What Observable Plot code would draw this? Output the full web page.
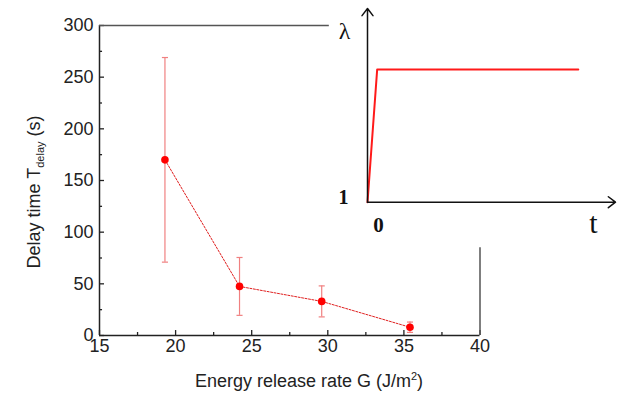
<!DOCTYPE html>
<html><head><meta charset="utf-8">
<script src="https://cdn.jsdelivr.net/npm/d3@7"></script>
<script src="https://cdn.jsdelivr.net/npm/@observablehq/plot@0.6"></script>
<style>
body{margin:0;background:#fff}
#wrap{position:relative;width:621px;height:394px}
#wrap svg{position:absolute;left:0;top:0}
</style>
</head><body><div id="wrap"></div>
<script>
// Main chart data
const G = [19.3, 24.2, 29.6, 35.4];        // energy release rate (J/m^2)
const T = [170, 47.5, 33, 8];               // delay time (s)
const Terr = [99, 28, 15, 5];               // error (s)
const xTicks = [15, 20, 25, 30, 35, 40];
const xMinor = [17.5, 22.5, 27.5, 32.5, 37.5];
const yTicks = [0, 50, 100, 150, 200, 250, 300];
const yMinor = [25, 75, 125, 175, 225, 275];
// Inset schematic (stretch ratio vs time)
const tStep = [0, 0.039, 0.85];
const lamStep = [1, 1.685, 1.685];
const insetLabels = ["λ", "1", "0", "t"];

const data = G.map((g, i) => ({G: g, T: T[i], e: Terr[i]}));
const axisCol = "#222";

const main = Plot.plot({
  width: 621, height: 394,
  marginLeft: 99, marginRight: 141.5, marginTop: 25, marginBottom: 59,
  x: {domain: [15, 40]},
  y: {domain: [0, 300]},
  style: {fontFamily: "'Liberation Sans', Arial, sans-serif", fontSize: "18px", color: axisCol, background: "white"},
  marks: [
    Plot.axisX(xTicks, {tickSize: 0, tickPadding: 4, label: null, fontSize: 18}),
    Plot.axisY(yTicks, {tickSize: 0, tickPadding: 6, label: null, fontSize: 18}),
    // inward tick marks
    Plot.ruleX(xTicks, {y1: 0, y2: 4.8, stroke: axisCol, strokeWidth: 1.3}),
    Plot.ruleX(xMinor, {y1: 0, y2: 2.9, stroke: axisCol, strokeWidth: 1.3}),
    Plot.ruleY(yTicks, {x1: 15, x2: 15.33, stroke: axisCol, strokeWidth: 1.3}),
    Plot.ruleY(yMinor, {x1: 15, x2: 15.2, stroke: axisCol, strokeWidth: 1.3}),
    // frame
    Plot.ruleX([15], {y1: 0, y2: 300, stroke: axisCol, strokeWidth: 1.5}),
    Plot.ruleY([0], {x1: 15, x2: 40, stroke: axisCol, strokeWidth: 1.5}),
    Plot.ruleY([300], {x1: 15, x2: 30.1, stroke: "#555", strokeWidth: 1.5}),
    Plot.ruleX([40], {y1: 0, y2: 85, stroke: "#555", strokeWidth: 1.5}),
    // data
    Plot.ruleX(data, {x: "G", y1: d => d.T - d.e, y2: d => d.T + d.e, stroke: "#f08080", strokeWidth: 1.2}),
    Plot.link(data, {x1: d => d.G - 0.2, x2: d => d.G + 0.2, y1: d => d.T + d.e, y2: d => d.T + d.e, stroke: "#f08080", strokeWidth: 1.2}),
    Plot.link(data, {x1: d => d.G - 0.2, x2: d => d.G + 0.2, y1: d => d.T - d.e, y2: d => d.T - d.e, stroke: "#f08080", strokeWidth: 1.2}),
    Plot.line(data, {x: "G", y: "T", stroke: "#e02020", strokeWidth: 1, strokeDasharray: "2,1.5"}),
    Plot.dot(data, {x: "G", y: "T", r: 3.8, fill: "#ff0000", stroke: "none"})
  ]
});

const serif = "'Liberation Serif', 'DejaVu Serif', 'Times New Roman', serif";
const inset = Plot.plot({
  width: 621, height: 394,
  marginLeft: 367, marginRight: 6, marginTop: 8, marginBottom: 192.3,
  x: {domain: [0, 1], axis: null},
  y: {domain: [1, 2], axis: null},
  style: {background: "transparent", overflow: "visible"},
  marks: [
    Plot.line(tStep.map((t, i) => ({t, l: lamStep[i]})), {x: "t", y: "l", stroke: "#ff1a1a", strokeWidth: 2}),
    Plot.arrow([0], {x1: 0, y1: 1, x2: 0, y2: 2, headLength: 9, headAngle: 75, stroke: "#111", strokeWidth: 1.5}),
    Plot.arrow([0], {x1: 0, y1: 1, x2: 1, y2: 1, headLength: 9, headAngle: 75, stroke: "#111", strokeWidth: 1.5}),
    Plot.text([insetLabels[0]], {x: 0, y: 1.88, dx: -23, text: d => d, fontFamily: serif, fontSize: 24, fill: "#111"}),
    Plot.text([insetLabels[1]], {x: 0, y: 1, dx: -24, dy: -5, text: d => d, fontFamily: serif, fontWeight: "bold", fontSize: 20, fill: "#111"}),
    Plot.text([insetLabels[2]], {x: 0, y: 1, dx: 11, dy: 23, text: d => d, fontFamily: serif, fontWeight: "bold", fontSize: 21, fill: "#111"}),
    Plot.text([insetLabels[3]], {x: 1, y: 1, dx: -22, dy: 21, text: d => d, fontFamily: serif, fontSize: 30, fill: "#111"})
  ]
});

const wrap = document.getElementById("wrap");
wrap.appendChild(main);
wrap.appendChild(inset);

const svg = d3.select(main);
const yl = svg.append("text")
  .attr("transform", "translate(40,192) rotate(-90)")
  .attr("text-anchor", "middle")
  .attr("font-family", "'Liberation Sans', Arial, sans-serif")
  .attr("font-size", 18).attr("fill", axisCol);
yl.append("tspan").text("Delay time T");
yl.append("tspan").attr("font-size", 11).attr("dy", 4).text("delay");
yl.append("tspan").attr("dy", -4).text(" (s)");

const xl = svg.append("text")
  .attr("x", 309).attr("y", 387)
  .attr("text-anchor", "middle")
  .attr("font-family", "'Liberation Sans', Arial, sans-serif")
  .attr("font-size", 18).attr("fill", axisCol);
xl.append("tspan").text("Energy release rate G (J/m");
xl.append("tspan").attr("font-size", 11).attr("dy", -7).text("2");
xl.append("tspan").attr("dy", 7).text(")");
</script>
</body></html>
